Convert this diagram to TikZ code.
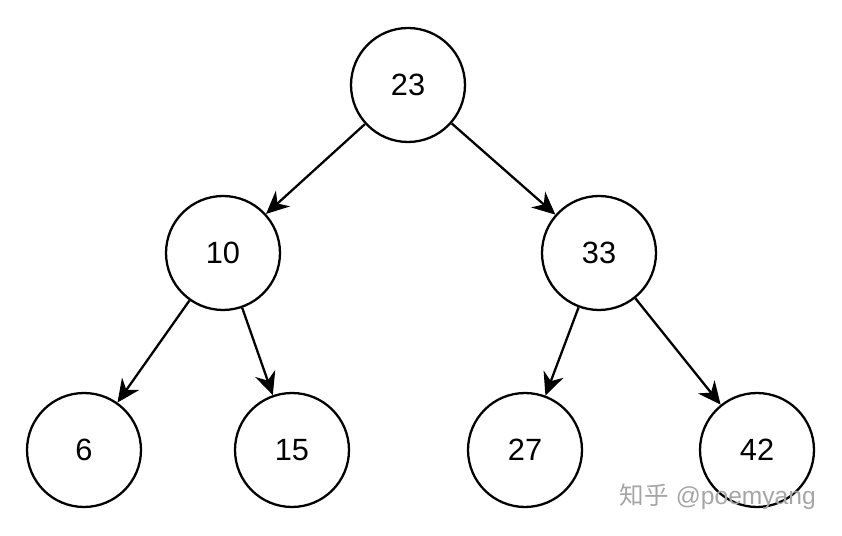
\documentclass[tikz,border=0pt]{standalone}
\usepackage{fontspec}
\setmainfont{Liberation Sans}
\newfontfamily\cjk{Noto Sans CJK SC}
\usetikzlibrary{arrows.meta}
\tikzset{
    key/.style={circle, draw, line width=1.3pt, minimum size=2.28cm, inner sep=0pt, font=\fontsize{17.5}{20}\selectfont},
    link/.style={-{Stealth[length=13pt,width=12pt]}, line width=1.3pt},
}
\begin{document}
\begin{tikzpicture}[x=0.02cm, y=-0.02cm]
    \useasboundingbox (0,0) rectangle (842,536);

    \node[key] (k23) at (408,85) {23};
    \node[key] (k10) at (223,253) {10};
    \node[key] (k33) at (599,253) {33};
    \node[key] (k6) at (84,450) {6};
    \node[key] (k15) at (292,450) {15};
    \node[key] (k27) at (525,450) {27};
    \node[key] (k42) at (757,450) {42};

    \draw[link] (k23) -- (k10);
    \draw[link] (k23) -- (k33);
    \draw[link] (k10) -- (k6);
    \draw[link] (k10) -- (k15);
    \draw[link] (k33) -- (k27);
    \draw[link] (k33) -- (k42);

    \node[text=black!35, font=\fontsize{14}{16}\selectfont, anchor=east] (mark) at (822,497) {{\cjk 知乎} @poemyang};
\end{tikzpicture}
\end{document}
